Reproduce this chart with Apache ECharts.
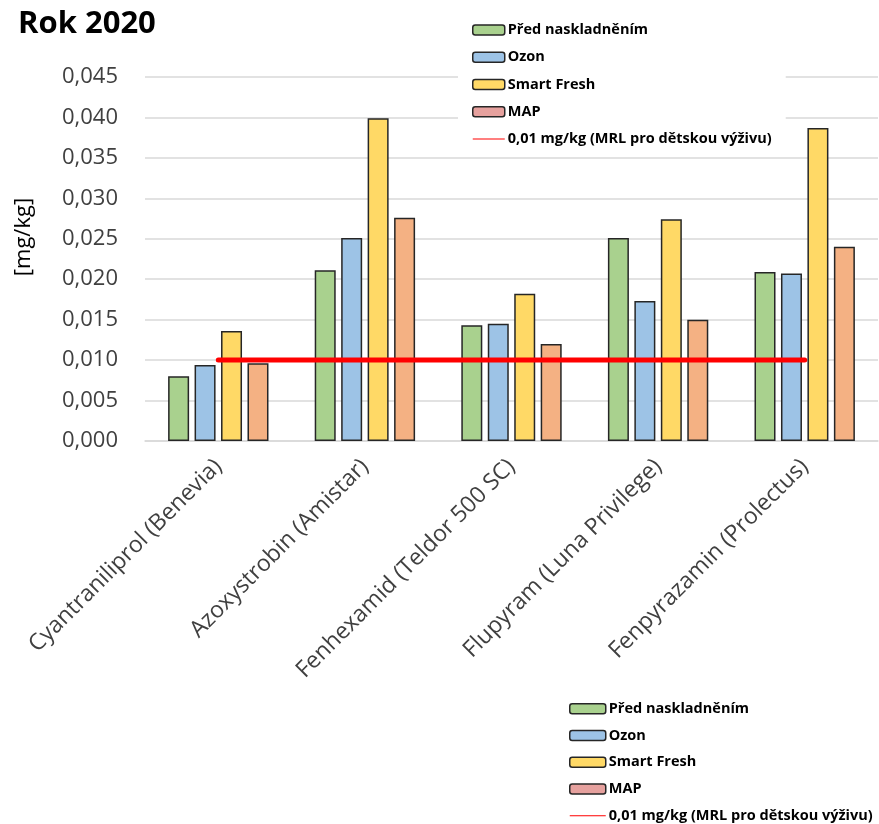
<!DOCTYPE html>
<html>
<head>
<meta charset="utf-8">
<script src="https://cdn.jsdelivr.net/npm/echarts@6/dist/echarts.min.js"></script>
<style>html,body{margin:0;padding:0;background:#fff}#c{width:879px;height:824px}</style>
</head>
<body>
<div id="c"></div>
<script>
var categories = ['Cyantraniliprol (Benevia)', 'Azoxystrobin (Amistar)', 'Fenhexamid (Teldor 500 SC)', 'Flupyram (Luna Privilege)', 'Fenpyrazamin (Prolectus)'];
var predNaskladnenim = [0.0080, 0.0211, 0.0143, 0.0251, 0.0209];
var ozon = [0.0094, 0.0251, 0.0145, 0.0173, 0.0207];
var smartFresh = [0.0136, 0.0399, 0.0182, 0.0274, 0.0387];
var mapValues = [0.0096, 0.0276, 0.0120, 0.0150, 0.0240];
var mrlLine = [0.01, 0.01, 0.01, 0.01, 0.01];
var yTicks = [0, 0.005, 0.01, 0.015, 0.02, 0.025, 0.03, 0.035, 0.04, 0.045];

var FONT = 'Open Sans';
var names = ['Před naskladněním', 'Ozon', 'Smart Fresh', 'MAP', '0,01 mg/kg (MRL pro dětskou výživu)'];
var colors = ['#A9D18E', '#9DC3E6', '#FFD966', '#F4B183'];
var border = '#262626';

function legendData() {
  return [
    {name: names[0], itemStyle: {color: '#A9D18E', borderColor: border, borderWidth: 1.5}},
    {name: names[1], itemStyle: {color: '#9DC3E6', borderColor: border, borderWidth: 1.5}},
    {name: names[2], itemStyle: {color: '#FFD966', borderColor: border, borderWidth: 1.5}},
    {name: names[3], itemStyle: {color: '#E6A19E', borderColor: border, borderWidth: 1.5}},
    {name: names[4], icon: 'path://M0,0 L40,0 L40,1.3 L0,1.3 Z', itemStyle: {color: '#FF0000', borderWidth: 0}}
  ];
}

function barSeries(name, data, color) {
  return {
    name: name, type: 'bar', data: data,
    barWidth: 21, barGap: '26%',
    itemStyle: {color: color, borderColor: border, borderWidth: 1.5},
    z: 2
  };
}

var chart = echarts.init(document.getElementById('c'), null, {renderer: 'canvas'});
chart.setOption({
  animation: false,
  backgroundColor: '#fff',
  textStyle: {fontFamily: FONT},
  title: {
    text: 'Rok 2020', left: 13, top: 4,
    textStyle: {fontFamily: FONT, fontSize: 31, fontWeight: 'bold', color: '#000'}
  },
  legend: [
    {
      orient: 'vertical', left: 458, top: 15,
      padding: [7, 14, 7, 14],
      backgroundColor: '#fff',
      itemWidth: 32, itemHeight: 10, itemGap: 11.25,
      symbolKeepAspect: true,
      textStyle: {fontFamily: FONT, fontSize: 14.5, fontWeight: 'bold', color: '#000', lineHeight: 16, padding: [0, 0, 0, -2]},
      data: legendData(), z: 10
    },
    {
      orient: 'vertical', left: 569, top: 701,
      padding: 0,
      itemWidth: 36, itemHeight: 10, itemGap: 11.25,
      symbolKeepAspect: true,
      textStyle: {fontFamily: FONT, fontSize: 14.5, fontWeight: 'bold', color: '#000', lineHeight: 15.5, padding: [0, 0, 0, -2]},
      data: legendData()
    }
  ],
  grid: {left: 145, right: 1, top: 77, bottom: 383, containLabel: false},
  xAxis: {
    type: 'category', data: categories,
    axisLine: {show: true, lineStyle: {color: '#D9D9D9', width: 1.5}},
    axisTick: {show: false},
    axisLabel: {rotate: 45, margin: 22, interval: 0, fontFamily: FONT, fontSize: 23, color: '#404040'}
  },
  yAxis: {
    type: 'value', min: 0, max: 0.045, interval: 0.005,
    name: '[mg/kg]', nameLocation: 'middle', nameRotate: 90, nameGap: 110,
    nameTextStyle: {fontFamily: FONT, fontSize: 22, color: '#000', padding: [0, 0, 0, 44]},
    axisLine: {show: false}, axisTick: {show: false},
    splitLine: {lineStyle: {color: '#D9D9D9', width: 1.5}},
    axisLabel: {
      fontFamily: FONT, fontSize: 22, color: '#404040', margin: 27,
      customValues: yTicks,
      formatter: function (v) { return v.toFixed(3).replace('.', ','); }
    }
  },
  series: [
    barSeries(names[0], predNaskladnenim, colors[0]),
    barSeries(names[1], ozon, colors[1]),
    barSeries(names[2], smartFresh, colors[2]),
    barSeries(names[3], mapValues, colors[3]),
    {
      name: names[4], type: 'line', data: mrlLine,
      symbol: 'none', z: 5,
      lineStyle: {color: '#FF0000', width: 5, cap: 'round'},
      itemStyle: {color: '#FF0000'}
    }
  ]
});
</script>
</body>
</html>
